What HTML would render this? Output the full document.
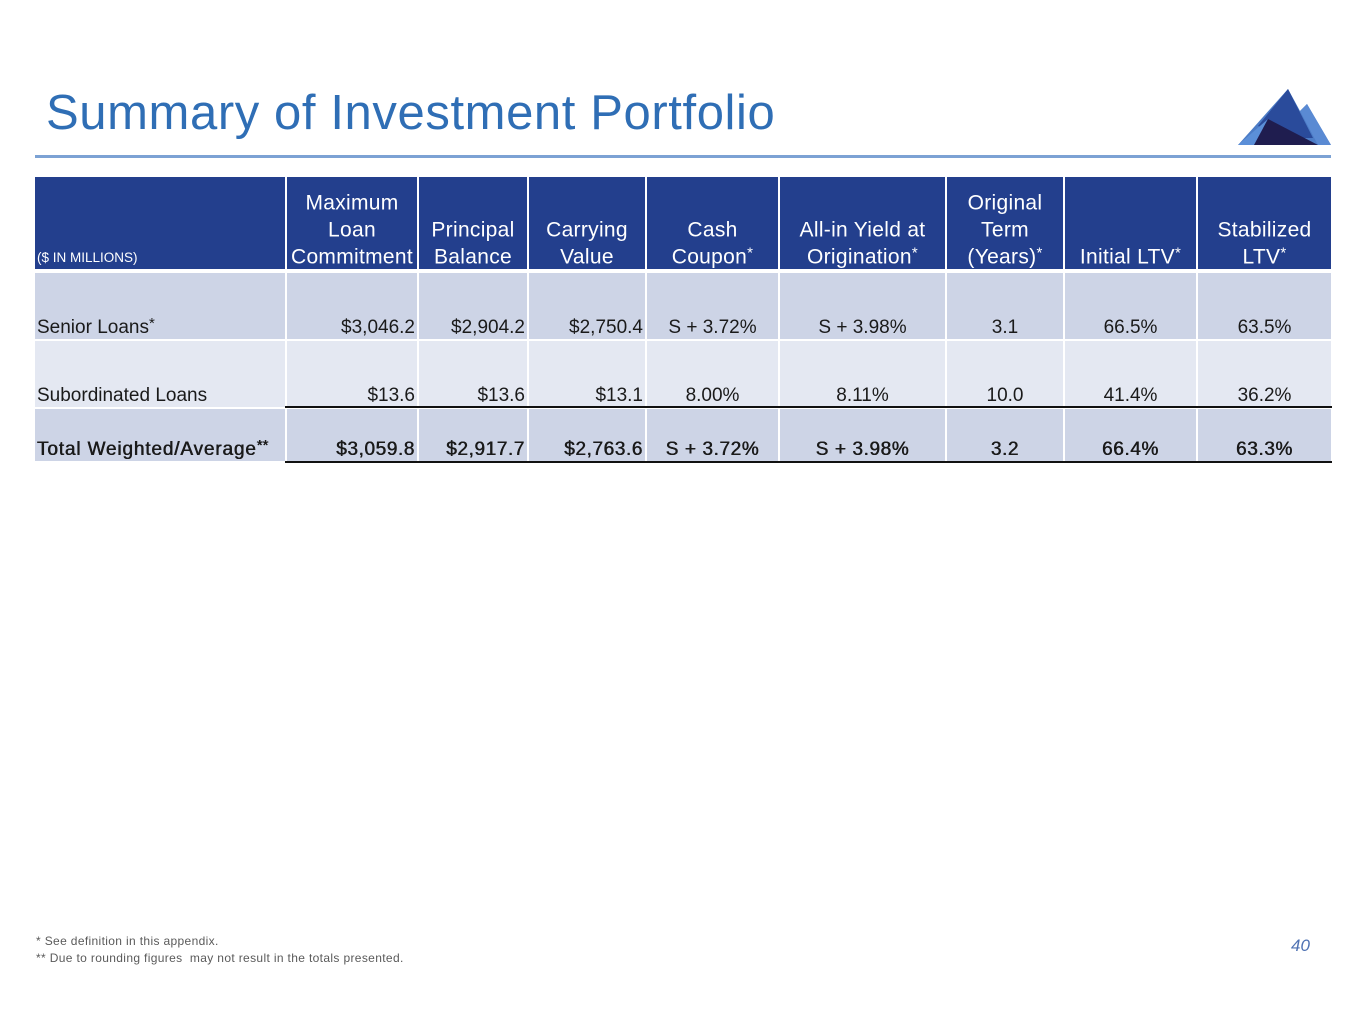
<!DOCTYPE html>
<html><head><meta charset="utf-8">
<style>
html,body{margin:0;padding:0;background:#fff;}
body{width:1365px;height:1024px;position:relative;overflow:hidden;font-family:"Liberation Sans",Arial,sans-serif;}
.abs{position:absolute;}
.title{left:46px;top:89px;font-size:49px;line-height:49px;letter-spacing:0.6px;color:#2F6EB5;white-space:nowrap;}
.rule{left:35px;top:155px;width:1296px;height:3px;background:#7CA2D4;}
.c{position:absolute;display:flex;align-items:flex-end;box-sizing:border-box;}
.h{background:#233F8D;color:#fff;font-size:21px;line-height:27px;letter-spacing:0.3px;justify-content:center;text-align:center;top:177px;height:92px;}
.h span{display:block;transform:translateY(1.5px);}
.h sup,.b sup{font-size:15px;vertical-align:top;position:relative;top:-4px;}
.b{font-size:19px;line-height:19px;color:#1a1a1a;padding-bottom:2px;white-space:nowrap;}
.r{justify-content:flex-end;padding-right:2px;}
.m{justify-content:center;}
.l{justify-content:flex-start;padding-left:2px;}
.r1{top:273px;height:66px;background:#CDD4E6;}
.r2{top:341px;height:66px;background:#E4E8F2;}
.r3{top:409px;height:52px;background:#CDD4E6;letter-spacing:0.6px;text-shadow:0.35px 0 0 #1a1a1a,-0.2px 0 0 #1a1a1a;}
.line{position:absolute;left:285px;width:1047px;height:2px;background:#111;}
.fn{left:36px;font-size:12px;color:#5a5a5a;letter-spacing:0.35px;white-space:nowrap;}
</style></head><body>
<div class="abs title">Summary of Investment Portfolio</div>
<svg class="abs" style="left:0;top:0" width="1365" height="160">
  <polygon points="1238,145 1288,89 1300,111 1307,104 1331,145" fill="#4C7CC6"/>
  <polygon points="1258,126 1288,89 1313,138 1290,138" fill="#2A4B9B"/>
  <polygon points="1300,111 1307,104 1331,145 1318,145" fill="#5A8AD3"/>
  <polygon points="1238,145 1268,119 1254,145" fill="#5B8FD8"/>
  <polygon points="1254,145 1268,119 1318,145" fill="#1F1D4F"/>
</svg>
<div class="abs rule"></div>

<!-- header -->
<div class="c h l" style="left:35px;width:250px;"><span style="font-size:13.5px;line-height:18px;letter-spacing:0;transform:translateY(-2px);">($ IN MILLIONS)</span></div>
<div class="c h" style="left:287px;width:130px;"><span>Maximum<br>Loan<br>Commitment</span></div>
<div class="c h" style="left:419px;width:108px;"><span>Principal<br>Balance</span></div>
<div class="c h" style="left:529px;width:116px;"><span>Carrying<br>Value</span></div>
<div class="c h" style="left:647px;width:131px;"><span>Cash<br>Coupon<sup>*</sup></span></div>
<div class="c h" style="left:780px;width:165px;"><span>All-in Yield at<br>Origination<sup>*</sup></span></div>
<div class="c h" style="left:947px;width:116px;"><span>Original<br>Term<br>(Years)<sup>*</sup></span></div>
<div class="c h" style="left:1065px;width:131px;"><span>Initial LTV<sup>*</sup></span></div>
<div class="c h" style="left:1198px;width:133px;"><span>Stabilized<br>LTV<sup>*</sup></span></div>

<!-- row 1 -->
<div class="c b l r1" style="left:35px;width:250px;"><span>Senior Loans<sup>*</sup></span></div>
<div class="c b r r1" style="left:287px;width:130px;">$3,046.2</div>
<div class="c b r r1" style="left:419px;width:108px;">$2,904.2</div>
<div class="c b r r1" style="left:529px;width:116px;">$2,750.4</div>
<div class="c b m r1" style="left:647px;width:131px;">S + 3.72%</div>
<div class="c b m r1" style="left:780px;width:165px;">S + 3.98%</div>
<div class="c b m r1" style="left:947px;width:116px;">3.1</div>
<div class="c b m r1" style="left:1065px;width:131px;">66.5%</div>
<div class="c b m r1" style="left:1198px;width:133px;">63.5%</div>

<!-- row 2 -->
<div class="c b l r2" style="left:35px;width:250px;">Subordinated Loans</div>
<div class="c b r r2" style="left:287px;width:130px;">$13.6</div>
<div class="c b r r2" style="left:419px;width:108px;">$13.6</div>
<div class="c b r r2" style="left:529px;width:116px;">$13.1</div>
<div class="c b m r2" style="left:647px;width:131px;">8.00%</div>
<div class="c b m r2" style="left:780px;width:165px;">8.11%</div>
<div class="c b m r2" style="left:947px;width:116px;">10.0</div>
<div class="c b m r2" style="left:1065px;width:131px;">41.4%</div>
<div class="c b m r2" style="left:1198px;width:133px;">36.2%</div>

<!-- row 3 -->
<div class="c b l r3" style="left:35px;width:250px;letter-spacing:0.85px;"><span>Total Weighted/Average<sup style="font-size:15px;letter-spacing:0;">**</sup></span></div>
<div class="c b r r3" style="left:287px;width:130px;">$3,059.8</div>
<div class="c b r r3" style="left:419px;width:108px;">$2,917.7</div>
<div class="c b r r3" style="left:529px;width:116px;">$2,763.6</div>
<div class="c b m r3" style="left:647px;width:131px;">S + 3.72%</div>
<div class="c b m r3" style="left:780px;width:165px;">S + 3.98%</div>
<div class="c b m r3" style="left:947px;width:116px;">3.2</div>
<div class="c b m r3" style="left:1065px;width:131px;">66.4%</div>
<div class="c b m r3" style="left:1198px;width:133px;">63.3%</div>

<div class="line" style="top:406px;"></div>
<div class="line" style="top:461px;"></div>

<div class="abs fn" style="top:934px;">* See definition in this appendix.</div>
<div class="abs fn" style="top:951px;">** Due to rounding figures&nbsp; may not result in the totals presented.</div>
<div class="abs" style="left:1291px;top:936px;font-size:17px;font-style:italic;color:#4F72B3;">40</div>
</body></html>
